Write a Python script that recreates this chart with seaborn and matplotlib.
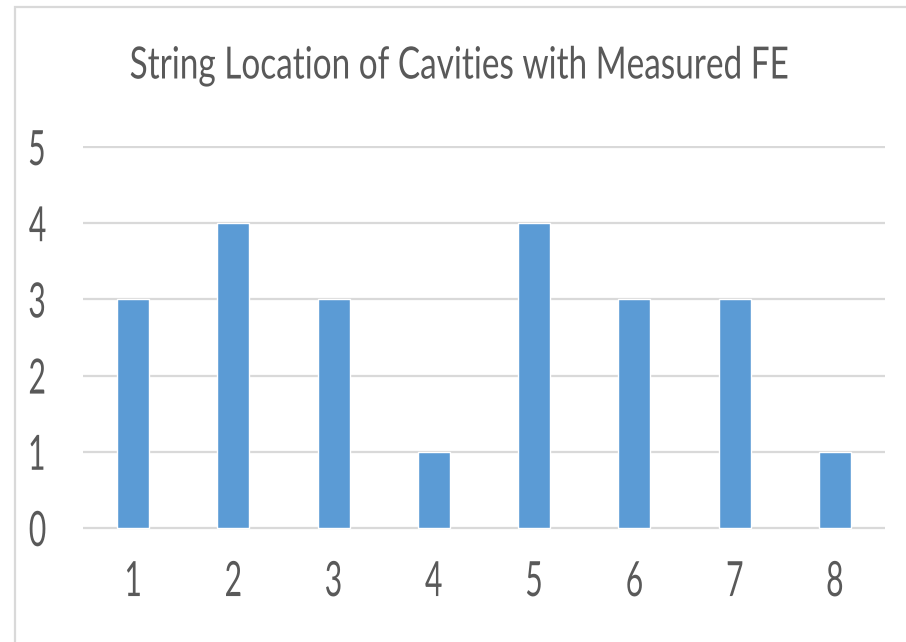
import matplotlib
matplotlib.use("Agg")
import matplotlib.pyplot as plt
import seaborn as sns
import pandas as pd
from matplotlib.patheffects import AbstractPathEffect
from matplotlib.transforms import Affine2D
from matplotlib.patches import Rectangle

# ---- data ----
categories = ["1", "2", "3", "4", "5", "6", "7", "8"]
values = [3, 4, 3, 1, 4, 3, 3, 1]
y_ticks = [0, 1, 2, 3, 4, 5]
title = "String Location of Cavities with Measured FE"

BAR = "#5B9BD5"
GRID = "#D9D9D9"
TXT = "#595959"


class Squeeze(AbstractPathEffect):
    """Narrow glyphs horizontally (Calibri-like condensed look)."""
    def __init__(self, sx, anchor="center"):
        super().__init__()
        self.sx = sx
        self.anchor = anchor

    def draw_path(self, renderer, gc, tpath, affine, rgbFace=None):
        ext = tpath.get_extents()
        if self.anchor == "right":
            cx = ext.x1
        elif self.anchor == "left":
            cx = ext.x0
        else:
            cx = (ext.x0 + ext.x1) / 2
        t = Affine2D().translate(-cx, 0).scale(self.sx, 1).translate(cx, 0) + affine
        renderer.draw_path(gc, tpath, t, rgbFace)


sns.set_theme(style="white")
plt.rcParams["font.family"] = ["Lato", "DejaVu Sans"]

df = pd.DataFrame({"cat": categories, "val": values})

fig = plt.figure(figsize=(9.06, 6.42), dpi=100)
ax = fig.add_axes([83 / 906, (642 - 529.5) / 642, 802 / 906, 384 / 642])

ax.set_axisbelow(True)
ax.yaxis.grid(True, color=GRID, linewidth=1.6)
ax.xaxis.grid(False)

sns.barplot(data=df, x="cat", y="val", color=BAR, saturation=1,
            width=0.32, ax=ax, order=categories)

ax.set_xlim(-0.5, len(categories) - 0.5)
ax.set_ylim(-0.02, 5.02)
ax.set_yticks(y_ticks)
ax.set_yticklabels([str(v) for v in y_ticks])
ax.set_xlabel("")
ax.set_ylabel("")
for s in ax.spines.values():
    s.set_visible(False)

ax.tick_params(axis="y", length=0, pad=26, labelsize=35, labelcolor=TXT)
ax.tick_params(axis="x", length=0, pad=22, labelsize=35, labelcolor=TXT)
for lbl in ax.get_yticklabels():
    lbl.set_path_effects([Squeeze(0.62, "right")])
for lbl in ax.get_xticklabels():
    lbl.set_path_effects([Squeeze(0.62, "center")])

fig.text(460 / 906, 1 - 66 / 642, title, ha="center", va="center",
         fontsize=32, color=TXT, path_effects=[Squeeze(0.75, "center")])

# chart frame (visible at left and top)
fig.patches.append(Rectangle((15 / 906, -0.2), 1.2, 1.2 - 7 / 642 + 0.0,
                             transform=fig.transFigure, fill=False,
                             edgecolor=GRID, linewidth=1.6))

fig.savefig("out.png", dpi=100)
